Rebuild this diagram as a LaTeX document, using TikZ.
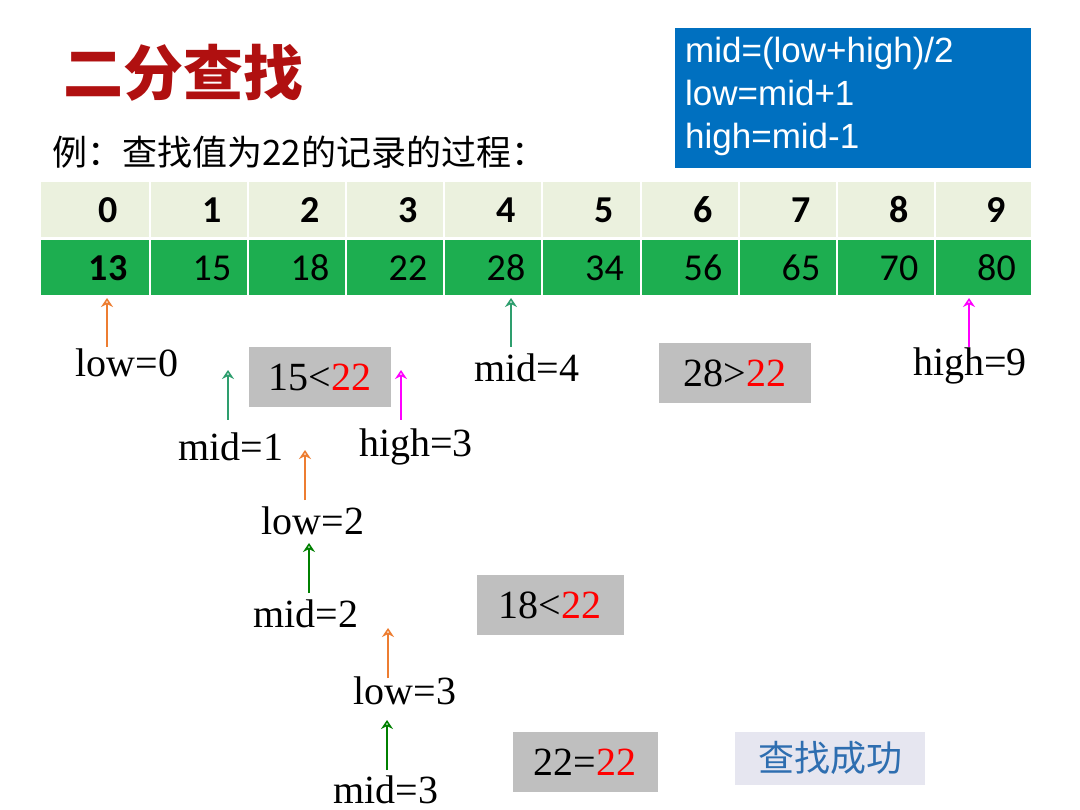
\documentclass[tikz,border=0pt]{standalone}
\usepackage{fontspec}
\usetikzlibrary{arrows.meta}
\setmainfont{Liberation Serif}
\newfontfamily\cjk{Noto Sans CJK SC}
\newfontfamily\arial{Liberation Sans}
\newfontfamily\carl{Carlito}
\definecolor{tgreen}{HTML}{1DAE50}
\definecolor{tpale}{HTML}{EBF1DE}
\definecolor{tblue}{HTML}{0070C0}
\definecolor{aor}{HTML}{ED7D31}
\definecolor{ateal}{HTML}{2E9E6E}
\definecolor{adg}{HTML}{008000}
\definecolor{amag}{HTML}{FF00FF}
\definecolor{gbox}{HTML}{BFBFBF}
\definecolor{tred}{HTML}{B01010}
\begin{document}
\begin{tikzpicture}[x=1pt,y=-1pt,
  lab/.style={font=\fontsize{40}{40}\selectfont,inner sep=0pt},
  cmp/.style={fill=gbox,minimum height=60pt,inner sep=0pt,font=\fontsize{40}{40}\selectfont},
  arr/.style={->,line width=2.2pt,>={Stealth[open,length=9pt,width=12pt,line width=1.5pt]}}]
\useasboundingbox (0,0) rectangle (1080,810);
\fill[white] (0,0) rectangle (1080,810);
\node[anchor=west,text=tred,font=\cjk\bfseries\fontsize{60}{60}\selectfont,inner sep=0pt] (title) at (63,73) {二分查找};
\node[anchor=west,font=\cjk\fontsize{35}{35}\selectfont,inner sep=0pt] (ex) at (52,152) {例：查找值为22的记录的过程：};
\fill[tblue] (675,28) rectangle (1031,168);
\node[anchor=north west,text=white,font=\arial\fontsize{35}{43}\selectfont,align=left,inner sep=0pt] (form) at (685,37) {mid=(low+high)/2\\low=mid+1\\high=mid-1};
\def\xs{{40,150,248,346,444,542,641,739,837,935,1032}}
\def\vals{{"13","15","18","22","28","34","56","65","70","80"}}
\foreach \i in {0,...,9}{
  \pgfmathsetmacro\xa{\xs[\i]}
  \pgfmathsetmacro\xb{\xs[\i+1]}
  \pgfmathsetmacro\xc{(\xa+\xb)/2+13}
  \pgfmathsetmacro\v{\vals[\i]}
  \fill[tpale] (\xa+1,182) rectangle (\xb-1,237);
  \fill[tgreen] (\xa+1,240) rectangle (\xb-1,295);
  \node[font=\carl\bfseries\fontsize{38}{38}\selectfont] (h\i) at (\xc,210) {\i};
  \ifnum\i=0
  \node[font=\carl\bfseries\fontsize{38}{38}\selectfont] (v\i) at (\xc,268) {\v};
  \else
  \node[font=\carl\fontsize{38}{38}\selectfont] (v\i) at (\xc,268) {\v};
  \fi
}
\node[lab] (low0) at (127,363) {low=0};
\node[lab] (mid4) at (527,368) {mid=4};
\node[lab] (high9) at (970,366) {high=9};
\coordinate (a1s) at (107,347); \coordinate (a1e) at (107,298);
\coordinate (a2s) at (511,347); \coordinate (a2e) at (511,298);
\coordinate (a3s) at (969,347); \coordinate (a3e) at (969,298);
\draw[arr,aor] (a1s) -- (a1e);
\draw[arr,ateal] (a2s) -- (a2e);
\draw[arr,amag] (a3s) -- (a3e);
\node[cmp,minimum width=142pt] (c1) at (320,377) {15<\textcolor{red}{22}};
\node[cmp,minimum width=152pt] (c2) at (735,373) {28>\textcolor{red}{22}};
\coordinate (b1s) at (228,420); \coordinate (b1e) at (228,370);
\coordinate (b2s) at (401,420); \coordinate (b2e) at (401,370);
\draw[arr,ateal] (b1s) -- (b1e);
\draw[arr,amag] (b2s) -- (b2e);
\node[lab] (mid1) at (231,447) {mid=1};
\node[lab] (high3) at (416,447) {high=3};
\coordinate (c1s) at (305,500); \coordinate (c1e) at (305,450);
\draw[arr,aor] (c1s) -- (c1e);
\node[lab] (low2) at (313,521) {low=2};
\coordinate (d1s) at (309,593); \coordinate (d1e) at (309,543);
\draw[arr,adg] (d1s) -- (d1e);
\node[lab] (mid2) at (306,614) {mid=2};
\node[cmp,minimum width=147pt] (c3) at (550,605) {18<\textcolor{red}{22}};
\coordinate (e1s) at (388,678); \coordinate (e1e) at (388,628);
\draw[arr,aor] (e1s) -- (e1e);
\node[lab] (low3) at (405,691) {low=3};
\coordinate (f1s) at (387,770); \coordinate (f1e) at (387,720);
\draw[arr,adg] (f1s) -- (f1e);
\node[lab] (mid3) at (386,790) {mid=3};
\node[cmp,minimum width=145pt] (c4) at (585,762) {22=\textcolor{red}{22}};
\node[fill={rgb,255:red,230;green,230;blue,240},minimum width=190pt,minimum height=53pt,inner sep=0pt,text={rgb,255:red,46;green,110;blue,176},font=\cjk\fontsize{36}{36}\selectfont] (ok) at (830,758) {查找成功};
\end{tikzpicture}
\end{document}
